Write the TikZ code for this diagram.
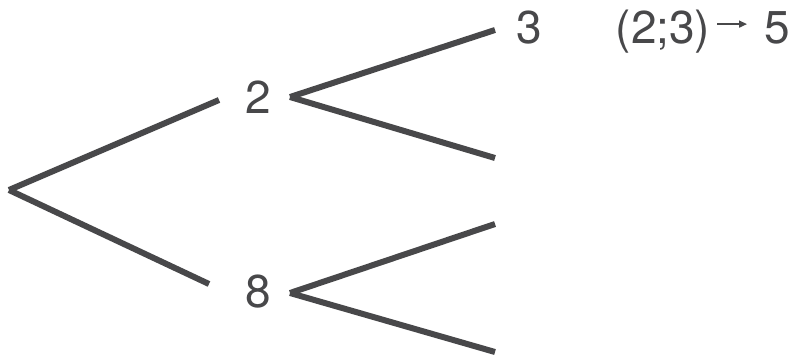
\documentclass[tikz,border=0pt]{standalone}
\usepackage{fontspec}
\setmainfont{TeX Gyre Heros}
\usetikzlibrary{arrows.meta}
\definecolor{treegray}{RGB}{72,72,74}
\tikzset{
  branch/.style={line width=6pt, draw=treegray},
  lbl/.style={text=treegray, font=\fontsize{46}{50}\selectfont, inner sep=0pt, anchor=base},
}
\begin{document}
\begin{tikzpicture}[x=1pt, y=-1pt]
    \useasboundingbox (0,0) rectangle (789,356);
    % first draw
    \coordinate (root) at (9,190);
    \coordinate (to2) at (219,100);
    \coordinate (to8) at (209,284);
    \node[lbl] (n2) at (258,113) {2};
    \node[lbl] (n8) at (258,307) {8};
    \draw[branch] (root) -- (to2);
    \draw[branch] (root) -- (to8);
    % second draw
    \coordinate (from2) at (290,97);
    \coordinate (from8) at (290,293);
    \coordinate (leaf23) at (495,30);
    \coordinate (leaf2b) at (495,158);
    \coordinate (leaf8a) at (495,224);
    \coordinate (leaf8b) at (495,352);
    \draw[branch] (from2) -- (leaf23);
    \draw[branch] (from2) -- (leaf2b);
    \draw[branch] (from8) -- (leaf8a);
    \draw[branch] (from8) -- (leaf8b);
    \node[lbl] (n3) at (529,43) {3};
    % outcome (2;3) gives sum 5
    \node[lbl] (p23) at (663,43) {(2;3)};
    \node[lbl] (n5) at (777,43) {5};
    \draw[treegray, line width=1.5pt, -{Triangle[length=8pt,width=7pt]},
        shorten <=7pt, shorten >=17pt]
        ([yshift=7pt]p23.east) -- ([yshift=7pt]p23.east -| n5.west);
\end{tikzpicture}
\end{document}
